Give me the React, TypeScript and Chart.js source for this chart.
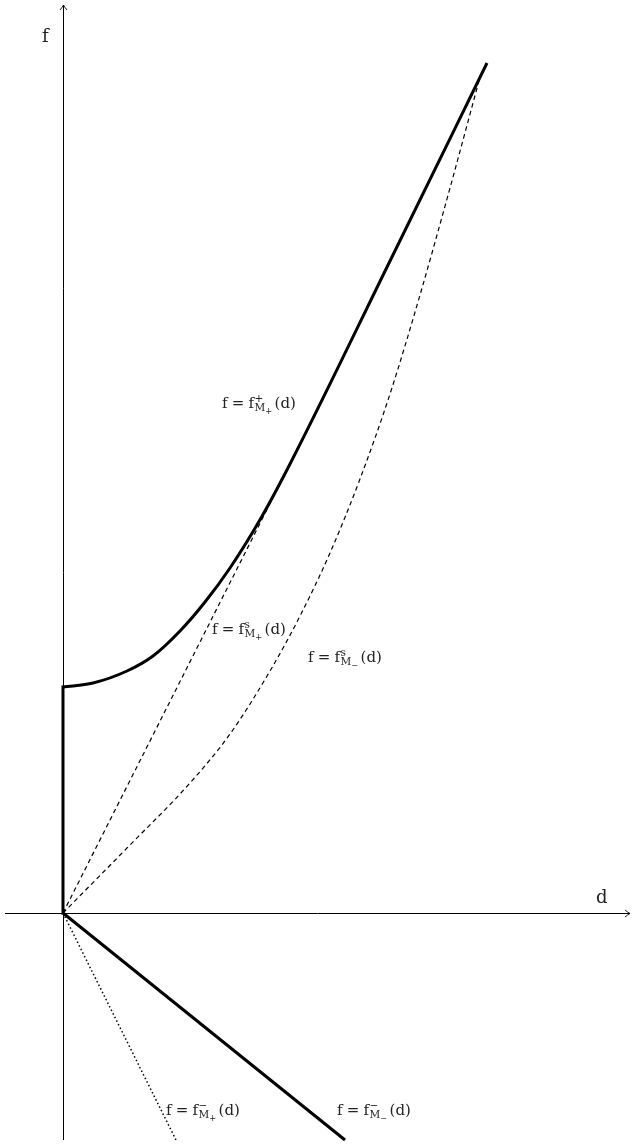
import React, { useEffect, useRef } from 'react';
import { Chart, registerables } from 'chart.js';

Chart.register(...registerables);

// vertical jump at d = 0 of the upper envelope
const jumpD = [0, 0];
const jumpF = [0, 2.26];
// f = f^+_{M+}(d)
const upperD = [0, 0.3, 0.64, 0.9, 1.17, 1.42, 1.67, 1.98, 2.27, 3.27, 4.24];
const upperF = [2.26, 2.3, 2.42, 2.57, 2.82, 3.11, 3.45, 3.95, 4.49, 6.52, 8.5];
// f = f^s_{M+}(d)
const secPlusD = [0, 2.27];
const secPlusF = [0, 4.49];
// f = f^s_{M-}(d)
const secMinusD = [0, 0.64, 1.27, 1.67, 2.07, 2.37, 2.67, 2.97, 3.27, 3.57, 3.87, 4.17];
const secMinusF = [0, 0.65, 1.3, 1.79, 2.42, 2.97, 3.6, 4.34, 5.19, 6.18, 7.25, 8.36];
// f = f^-_{M-}(d) and f = f^-_{M+}(d)
const lowMinusD = [0, 2.82];
const lowMinusF = [0, -2.27];
const lowPlusD = [0, 1.13];
const lowPlusF = [0, -2.27];

// axis extents
const axisD = [-0.58, 5.67];
const axisF = [-2.27, 9.08];

// curve labels: superscript and inner subscript of f_M
const labelSup = ['+', 's', 's', '\u2212', '\u2212'];
const labelSub = ['+', '+', '\u2212', '+', '\u2212'];
// where each label starts (left edge, baseline), in d / f units
const labelAt = [
  [1.59, 5.05],
  [1.49, 2.79],
  [2.45, 2.51],
  [1.03, -2.02],
  [2.74, -2.02],
];

const FONT = '"DejaVu Serif", serif';

const pts = (xs: number[], ys: number[]) => xs.map((x, i) => ({ x, y: ys[i] }));

function drawArrow(ctx: CanvasRenderingContext2D, tx: number, ty: number, dx: number, dy: number) {
  // small latex-style open arrow tip, direction (dx, dy)
  const nx = -dy, ny = dx;
  const back = 5, spread = 3.5;
  ctx.beginPath();
  ctx.moveTo(tx - dx * back + nx * spread, ty - dy * back + ny * spread);
  ctx.quadraticCurveTo(tx - dx * 2 + nx * 1, ty - dy * 2 + ny * 1, tx, ty);
  ctx.quadraticCurveTo(tx - dx * 2 - nx * 1, ty - dy * 2 - ny * 1, tx - dx * back - nx * spread, ty - dy * back - ny * spread);
  ctx.stroke();
}

function drawMathLabel(ctx: CanvasRenderingContext2D, left: number, base: number, sup: string, sub: string, size: number) {
  const s1 = size * 0.7;
  const s2 = size * 0.55;
  let cx = left;
  ctx.font = `${size}px ${FONT}`;
  ctx.fillText('f', cx, base);
  cx += ctx.measureText('f').width + size * 0.278;
  ctx.fillText('=', cx, base);
  cx += ctx.measureText('=').width + size * 0.278;
  ctx.fillText('f', cx, base);
  cx += ctx.measureText('f').width + size * 0.04;
  ctx.font = `${s1}px ${FONT}`;
  ctx.fillText(sup, cx, base - size * 0.4);
  const supW = ctx.measureText(sup).width;
  ctx.fillText('M', cx, base + size * 0.22);
  const mW = ctx.measureText('M').width;
  ctx.font = `${s2}px ${FONT}`;
  ctx.fillText(sub, cx + mW, base + size * 0.22 + s1 * 0.25);
  const subW = mW + ctx.measureText(sub).width;
  cx += Math.max(supW, subW) + size * 0.15;
  ctx.font = `${size}px ${FONT}`;
  ctx.fillText('(d)', cx, base);
}

const decorPlugin = {
  id: 'decor',
  beforeDatasetsDraw(chart: any) {
    const { ctx } = chart;
    const x = chart.scales.x;
    const y = chart.scales.y;
    const x0 = Math.round(x.getPixelForValue(0)) + 0.5;
    const y0 = Math.round(y.getPixelForValue(0)) + 0.5;
    const xl = x.getPixelForValue(axisD[0]);
    const xr = x.getPixelForValue(axisD[1]);
    const yb = y.getPixelForValue(axisF[0]);
    const yt = y.getPixelForValue(axisF[1]);
    ctx.save();
    ctx.strokeStyle = '#000';
    ctx.lineWidth = 1;
    ctx.beginPath();
    ctx.moveTo(xl, y0);
    ctx.lineTo(xr, y0);
    ctx.moveTo(x0, yb);
    ctx.lineTo(x0, yt);
    ctx.stroke();
    ctx.lineWidth = 0.9;
    drawArrow(ctx, xr, y0, 1, 0);
    drawArrow(ctx, x0, yt, 0, -1);
    ctx.restore();
  },
  afterDatasetsDraw(chart: any) {
    const { ctx } = chart;
    const x = chart.scales.x;
    const y = chart.scales.y;
    ctx.save();
    ctx.fillStyle = '#222';
    ctx.textBaseline = 'alphabetic';
    ctx.textAlign = 'left';
    labelAt.forEach(([d, f], i) => {
      drawMathLabel(ctx, x.getPixelForValue(d), y.getPixelForValue(f), labelSup[i], labelSub[i], 15);
    });
    // axis names
    ctx.font = `18px ${FONT}`;
    ctx.fillText('f', x.getPixelForValue(-0.21), y.getPixelForValue(8.71));
    ctx.fillText('d', x.getPixelForValue(5.33), y.getPixelForValue(0.1));
    ctx.restore();
  },
};

export default function App() {
  const canvasRef = useRef<HTMLCanvasElement>(null);

  useEffect(() => {
    if (!canvasRef.current) return;
    const thick = { borderColor: '#000', borderWidth: 3, pointRadius: 0, fill: false };
    const chart = new Chart(canvasRef.current, {
      type: 'line',
      data: {
        datasets: [
          { ...thick, data: pts(jumpD, jumpF), tension: 0, borderCapStyle: 'square' },
          { ...thick, data: pts(upperD, upperF), cubicInterpolationMode: 'monotone' },
          { ...thick, data: pts(lowMinusD, lowMinusF), tension: 0 },
          {
            data: pts(secPlusD, secPlusF),
            borderColor: '#000',
            borderWidth: 1.2,
            borderDash: [4.5, 3.5],
            pointRadius: 0,
            tension: 0,
          },
          {
            data: pts(secMinusD, secMinusF),
            borderColor: '#000',
            borderWidth: 1.2,
            borderDash: [4.5, 3.5],
            pointRadius: 0,
            cubicInterpolationMode: 'monotone',
          },
          {
            data: pts(lowPlusD, lowPlusF),
            borderColor: '#000',
            borderWidth: 1.5,
            borderDash: [1.5, 2.5],
            pointRadius: 0,
            tension: 0,
          },
        ] as any,
      },
      options: {
        animation: false,
        responsive: true,
        maintainAspectRatio: false,
        events: [],
        layout: { padding: 0 },
        plugins: { legend: { display: false }, tooltip: { enabled: false } },
        scales: {
          x: { type: 'linear', min: -0.63, max: 5.74, display: false },
          y: { type: 'linear', min: -2.35, max: 9.13, display: false },
        },
      },
      plugins: [decorPlugin],
    });
    return () => chart.destroy();
  }, []);

  return (
    <div style={{ position: 'absolute', left: 0, top: 0, width: 637, height: 1148, background: '#fff' }}>
      <canvas ref={canvasRef} />
    </div>
  );
}
